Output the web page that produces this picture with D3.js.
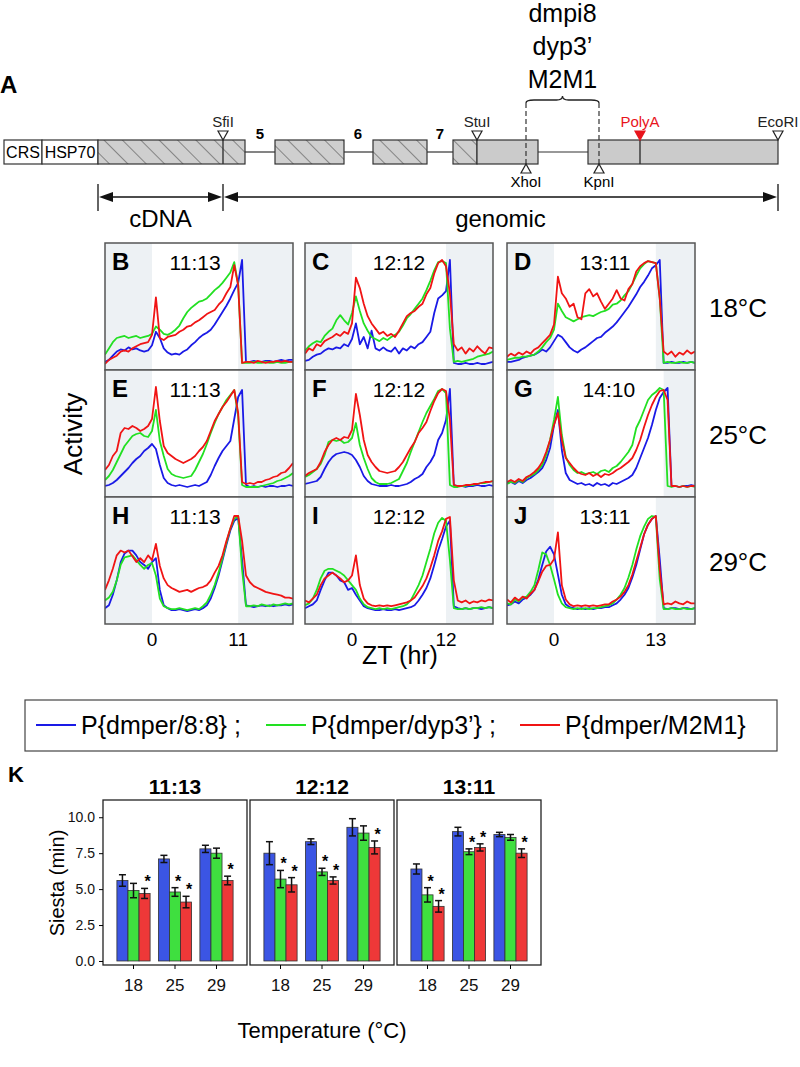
<!DOCTYPE html>
<html><head><meta charset="utf-8">
<script src="https://cdn.jsdelivr.net/npm/d3@7"></script>
<style>body{margin:0;background:#fff}svg{display:block;font-family:"Liberation Sans",Arial,Helvetica,sans-serif}</style>
</head><body><svg id="c" width="800" height="1067"></svg>
<script>
// ---------------- DATA ----------------
const genotypes = ["P{dmper/8:8} ;", "P{dmper/dyp3’} ;", "P{dmper/M2M1}"];
const temps = ["18°C", "25°C", "29°C"];
const panelLetters = [["B","C","D"],["E","F","G"],["H","I","J"]];
const photoperiods = [["11:13","12:12","13:11"],["11:13","12:12","14:10"],["11:13","12:12","13:11"]];
const lightsOff = [[11,12,13],[11,12,14],[11,12,13]];
const ztTickLabels = ["0","11","0","12","0","13"];
const ztStart = -6, ztEnd = 18, ztStep = 0.5;

// activity profiles (normalised, 30-min bins from ZT -6 to ZT 18)
const actB_8   = [2,4,8,12,14,13,16,14,15,13,12,13,18,31,25,15,11,9,10,9,12,14,18,21,25,28,30,33,38,44,50,56,63,71,78,100,2,2,3,2,2,3,3,2,3,4,3,4,4];
const actB_dyp = [9,15,21,25,26,27,25,26,27,25,26,27,29,36,33,29,28,30,33,37,44,50,54,57,60,61,63,67,71,74,78,83,88,98,76,1,1,1,2,1,1,2,1,1,2,1,1,2,2];
const actB_M2  = [0,4,6,8,12,13,12,15,17,19,20,21,28,64,25,23,26,27,28,31,33,36,37,40,42,45,48,50,52,57,61,68,74,95,76,1,2,2,1,3,2,1,2,2,3,2,3,2,2];
const actC_8   = [3,4,7,9,10,13,15,14,16,15,19,17,24,39,19,26,15,32,15,13,16,13,12,16,10,15,13,17,15,19,21,26,31,49,63,66,70,100,1,0,0,1,0,0,1,0,0,1,2];
const actC_dyp = [13,17,20,22,21,27,31,34,42,47,42,38,49,65,51,39,32,26,24,22,25,23,26,28,31,37,44,48,53,58,63,71,80,90,98,99,97,34,2,3,2,3,4,5,7,8,9,10,12];
const actC_M2  = [10,15,13,19,17,22,24,26,29,27,31,29,39,83,73,58,46,39,34,29,31,27,29,26,32,39,46,49,51,55,58,67,73,87,97,100,94,68,19,13,16,10,15,12,17,13,10,16,15];
const actD_8   = [2,2,3,4,6,7,8,9,11,14,12,16,22,28,26,21,16,13,11,14,16,19,22,25,26,30,33,36,40,45,50,55,61,67,74,79,85,92,95,100,1,1,2,1,1,2,1,2,1];
const actD_dyp = [4,5,6,6,7,7,8,9,12,16,21,25,33,58,51,45,43,41,43,45,46,47,46,48,50,51,53,57,58,61,66,70,77,85,92,96,99,98,97,63,1,2,1,1,2,1,1,2,1];
const actD_M2  = [7,10,8,11,9,12,10,14,16,20,24,28,38,84,68,63,55,58,45,43,68,72,65,68,60,53,58,63,71,63,61,72,77,89,94,97,99,98,97,63,12,9,12,7,11,9,13,10,12];
const actE_8   = [1,2,4,7,11,15,19,24,28,31,36,39,43,38,22,9,4,2,1,2,1,0,1,2,1,3,5,12,21,29,36,41,46,68,90,97,2,0,1,0,1,0,1,1,0,1,1,2,1];
const actE_dyp = [7,11,17,25,33,41,46,51,53,54,51,50,56,77,46,31,18,13,11,10,9,10,11,17,25,33,43,54,64,73,80,87,92,97,71,2,0,0,0,0,1,2,3,4,6,7,9,11,14];
const actE_M2  = [17,22,31,36,54,59,58,61,59,56,58,61,68,100,66,41,34,31,28,26,24,26,28,31,36,40,46,56,66,73,80,85,91,97,74,5,3,4,3,5,5,7,8,10,11,14,15,19,24];
const actF_8   = [3,4,5,6,10,18,25,30,33,34,35,34,32,27,20,11,6,3,2,1,1,1,2,1,1,2,3,5,8,10,13,20,25,32,47,54,67,98,2,1,1,0,1,1,2,1,1,2,1];
const actF_dyp = [10,12,15,18,23,32,45,47,46,47,44,45,49,64,42,29,18,9,5,3,3,3,4,6,8,16,24,35,45,55,65,74,81,88,96,98,94,2,0,0,1,1,2,2,3,4,4,5,6];
const actF_M2  = [11,14,16,18,25,35,42,47,49,47,50,49,57,93,72,47,32,25,20,16,15,14,15,16,20,25,32,39,45,54,59,65,76,86,94,98,96,67,2,1,1,2,2,3,3,4,5,5,6];
const actG_8   = [4,5,3,6,4,7,9,12,15,19,27,39,62,77,37,14,7,5,3,4,2,3,1,4,2,3,1,4,3,5,7,9,12,19,29,39,49,62,77,89,95,99,1,1,0,1,1,2,1];
const actG_dyp = [3,5,4,7,5,9,11,13,17,22,32,47,67,90,52,30,22,17,14,15,13,14,15,13,16,17,15,19,21,25,30,35,42,59,67,77,87,92,95,99,97,1,0,1,0,1,0,1,0];
const actG_M2  = [5,7,5,8,6,10,12,15,19,25,35,47,62,74,47,29,24,19,15,13,12,14,11,13,10,13,12,14,17,19,22,25,29,37,47,60,72,82,90,96,97,87,1,1,0,1,0,1,1];
const actH_8   = [4,7,18,33,52,61,64,64,59,52,49,45,52,56,23,7,4,2,2,3,2,1,2,3,2,4,7,14,25,38,54,70,85,95,98,54,7,6,5,6,7,6,7,6,7,7,8,7,8];
const actH_dyp = [12,15,21,33,49,57,58,59,54,49,45,49,51,38,14,6,4,3,3,4,3,2,3,4,3,6,10,18,28,41,56,72,87,97,100,44,6,6,7,6,8,7,6,8,7,8,9,8,9];
const actH_M2  = [23,33,45,59,64,62,64,58,52,56,52,59,54,71,48,35,28,25,23,21,22,23,21,23,25,26,28,33,41,48,59,74,87,100,100,74,38,31,27,25,23,21,20,19,18,17,15,15,14];
const actI_8   = [4,6,8,12,23,33,41,41,38,33,31,23,25,18,12,6,4,3,2,2,3,2,2,3,2,3,4,5,7,12,18,25,35,49,64,76,89,95,6,4,3,4,3,4,4,3,4,5,4];
const actI_dyp = [7,9,14,23,35,43,45,45,43,41,38,33,28,23,14,8,5,4,3,4,3,4,3,4,5,6,8,12,20,28,38,52,66,82,93,98,95,54,4,3,3,4,3,4,4,5,4,5,4];
const actI_M2  = [12,10,14,18,28,35,38,41,38,35,31,33,38,59,28,14,9,7,6,7,6,7,6,7,8,9,10,12,15,21,27,35,46,59,74,84,97,99,33,12,10,12,9,11,10,12,11,13,12];
const actJ_8   = [7,8,11,9,13,15,18,23,34,49,63,68,60,39,18,8,5,4,3,4,3,4,3,4,4,5,5,7,9,13,18,25,36,49,65,81,91,97,100,55,4,3,4,4,3,4,4,3,4];
const actJ_dyp = [9,8,13,11,15,16,21,28,44,62,60,49,34,18,9,5,4,3,4,3,4,3,4,4,5,6,7,9,13,18,25,36,49,65,79,89,97,100,99,34,3,3,4,3,3,4,3,3,4];
const actJ_M2  = [13,10,15,12,16,14,19,23,32,42,48,49,55,83,28,13,8,6,7,6,7,6,7,6,7,8,8,11,13,16,21,28,39,53,67,81,91,97,100,44,8,9,8,11,9,8,11,9,9];

// Panel K: siesta (min)
const barPhotoperiods = ["11:13","12:12","13:11"];
const barTemps = ["18","25","29"];
const siesta_8 = [[5.6,7.1,7.8],[7.5,8.3,9.3],[6.4,9.0,8.8]];
const siesta_dyp = [[4.9,4.8,7.5],[5.7,6.2,8.9],[4.6,7.6,8.6]];
const siesta_M2 = [[4.7,4.1,5.6],[5.3,5.6,7.9],[3.8,7.9,7.5]];
const sem_8 = [[0.4,0.25,0.25],[0.8,0.2,0.6],[0.35,0.3,0.15]];
const sem_dyp = [[0.5,0.3,0.35],[0.6,0.25,0.5],[0.5,0.2,0.2]];
const sem_M2 = [[0.35,0.4,0.3],[0.5,0.25,0.45],[0.4,0.25,0.3]];
const sig_8 = [[0,0,0],[0,0,0],[0,0,0]];
const sig_dyp = [[0,1,0],[1,1,0],[1,1,0]];
const sig_M2 = [[1,1,1],[1,1,1],[1,1,1]];
const siestaTicks = [0,2.5,5,7.5,10];

// Panel A schematic (gene map units)
const geneBoxes = [
  {a:0,b:38,kind:"white",label:"CRS"},{a:38,b:94,kind:"white",label:"HSP70"},
  {a:94,b:241,kind:"hatch"},{a:271,b:340,kind:"hatch"},{a:369,b:423,kind:"hatch"},
  {a:449,b:473,kind:"hatch"},{a:473,b:534,kind:"gray"},{a:584,b:774,kind:"gray"}];
const geneIntrons = [[241,271],[340,369],[423,449],[534,584]];
const exonNums = [{p:256,t:"5"},{p:354,t:"6"},{p:436,t:"7"}];
const sitesTop = [{p:219,t:"SfiI",line:true},{p:473,t:"StuI",line:false},{p:636,t:"PolyA",line:true,red:true},{p:774,t:"EcoRI",line:false}];
const sitesBottom = [{p:522,t:"XhoI"},{p:595,t:"KpnI"}];
const constructNames = ["dmpi8","dyp3’","M2M1"];
const regions = [{a:94,b:219,t:"cDNA"},{a:219,b:774,t:"genomic"}];

// ---------------- DRAW ----------------
const svg = d3.select("#c");
const lineColors = ["#1a1ae6","#22e022","#f01414"];
const barColors = ["#3b55e4","#3fdf3f","#ee3838"];
const shade = "#edf1f4";

// ===== Panel A =====
const gx = d3.scaleLinear().domain([0,774]).range([4,778]);
const barTop = 140, barH = 24, barMid = barTop + barH/2;
const defs = svg.append("defs");
const pat = defs.append("pattern").attr("id","hatch").attr("patternUnits","userSpaceOnUse")
  .attr("width",13).attr("height",13).attr("patternTransform","rotate(-45)");
pat.append("rect").attr("width",13).attr("height",13).attr("fill","#cfcfcf");
pat.append("line").attr("x1",0).attr("y1",0).attr("x2",0).attr("y2",13).attr("stroke","#3a3a3a").attr("stroke-width",1);

svg.append("text").attr("x",0).attr("y",93).attr("font-size",24).attr("font-weight","bold").text("A");
const gA = svg.append("g");
gA.selectAll("line.intron").data(geneIntrons).join("line")
  .attr("x1",d=>gx(d[0])).attr("x2",d=>gx(d[1])).attr("y1",barMid).attr("y2",barMid)
  .attr("stroke","#333").attr("stroke-width",1.2);
gA.selectAll("rect.box").data(geneBoxes).join("rect")
  .attr("x",d=>gx(d.a)).attr("width",d=>gx(d.b)-gx(d.a)).attr("y",barTop).attr("height",barH)
  .attr("fill",d=>d.kind==="white"?"#fff":d.kind==="hatch"?"url(#hatch)":"#cbcbcb")
  .attr("stroke","#333").attr("stroke-width",1.2);
gA.selectAll("text.boxl").data(geneBoxes.filter(d=>d.label)).join("text")
  .attr("x",d=>(gx(d.a)+gx(d.b))/2).attr("y",barMid+6).attr("text-anchor","middle")
  .attr("font-size",16).text(d=>d.label);
gA.selectAll("text.ex").data(exonNums).join("text")
  .attr("x",d=>gx(d.p)).attr("y",barTop-1).attr("text-anchor","middle")
  .attr("font-size",15).attr("font-weight","bold").text(d=>d.t);
sitesTop.forEach(s=>{
  const x = gx(s.p), c = s.red ? "#e8141c" : "#222";
  if (s.line) gA.append("line").attr("x1",x).attr("x2",x).attr("y1",barTop).attr("y2",barTop+barH).attr("stroke","#333").attr("stroke-width",1.4);
  gA.append("path").attr("d",`M${x-5},${barTop-9}L${x+5},${barTop-9}L${x},${barTop}Z`)
    .attr("fill",s.red?c:"#fff").attr("stroke",c).attr("stroke-width",1.2);
  gA.append("text").attr("x",x).attr("y",barTop-13).attr("text-anchor","middle")
    .attr("font-size",15).attr("fill",c).text(s.t);
});
sitesBottom.forEach(s=>{
  const x = gx(s.p);
  gA.append("line").attr("x1",x).attr("x2",x).attr("y1",103).attr("y2",barTop+barH)
    .attr("stroke","#333").attr("stroke-width",1.2).attr("stroke-dasharray","5,3");
  gA.append("path").attr("d",`M${x-5},${barTop+barH+9}L${x+5},${barTop+barH+9}L${x},${barTop+barH}Z`)
    .attr("fill","#fff").attr("stroke","#222").attr("stroke-width",1.2);
  gA.append("text").attr("x",x).attr("y",barTop+barH+23).attr("text-anchor","middle")
    .attr("font-size",15).text(s.t);
});
{
  const x0 = gx(sitesBottom[0].p), x1 = gx(sitesBottom[1].p), xm=(x0+x1)/2, yb=103, yt=97;
  gA.append("path").attr("d",`M${x0},${yb}Q${x0},${yt+3} ${x0+8},${yt+3}L${xm-6},${yt+3}Q${xm},${yt+3} ${xm},${yt-1}Q${xm},${yt+3} ${xm+6},${yt+3}L${x1-8},${yt+3}Q${x1},${yt+3} ${x1},${yb}`)
    .attr("fill","none").attr("stroke","#222").attr("stroke-width",1.3);
  gA.selectAll("text.cn").data(constructNames).join("text")
    .attr("x",xm).attr("y",(d,i)=>22+i*33).attr("text-anchor","middle").attr("font-size",25).text(d=>d);
}
{
  const ya = 197;
  const ticks = [regions[0].a, regions[0].b, regions[1].b];
  gA.selectAll("line.rt").data(ticks).join("line")
    .attr("x1",d=>gx(d)).attr("x2",d=>gx(d)).attr("y1",184).attr("y2",211).attr("stroke","#111").attr("stroke-width",1.3);
  regions.forEach(r=>{
    const a = gx(r.a)+1, b = gx(r.b)-1;
    gA.append("line").attr("x1",a+10).attr("x2",b-10).attr("y1",ya).attr("y2",ya).attr("stroke","#111").attr("stroke-width",1.3);
    gA.append("path").attr("d",`M${a},${ya}L${a+14},${ya-5}L${a+14},${ya+5}Z`).attr("fill","#111");
    gA.append("path").attr("d",`M${b},${ya}L${b-14},${ya-5}L${b-14},${ya+5}Z`).attr("fill","#111");
    gA.append("text").attr("x",(gx(r.a)+gx(r.b))/2).attr("y",227).attr("text-anchor","middle").attr("font-size",24).text(r.t);
  });
}

// ===== Panels B-J =====
const panelSeries = [
  [[actB_8,actB_dyp,actB_M2],[actC_8,actC_dyp,actC_M2],[actD_8,actD_dyp,actD_M2]],
  [[actE_8,actE_dyp,actE_M2],[actF_8,actF_dyp,actF_M2],[actG_8,actG_dyp,actG_M2]],
  [[actH_8,actH_dyp,actH_M2],[actI_8,actI_dyp,actI_M2],[actJ_8,actJ_dyp,actJ_M2]]];
const colX = [105,305,507], pW = 188, rowY = [243,370,497], pH = 127;
const baseOff = [121,117,115], peakOff = [17,17,19];
rowY.forEach((ry,r)=>{
  colX.forEach((cx,c)=>{
    const x = d3.scaleLinear().domain([ztStart,ztEnd]).range([cx,cx+pW]);
    const y = d3.scaleLinear().domain([0,100]).range([ry+baseOff[r], ry+peakOff[r]]);
    const g = svg.append("g");
    const cid = `clip${r}${c}`;
    defs.append("clipPath").attr("id",cid).append("rect").attr("x",cx).attr("y",ry).attr("width",pW).attr("height",pH);
    g.append("rect").attr("x",cx).attr("y",ry).attr("width",pW).attr("height",pH).attr("fill","#fff");
    g.append("rect").attr("x",x(ztStart)).attr("y",ry).attr("width",x(0)-x(ztStart)).attr("height",pH).attr("fill",shade);
    g.append("rect").attr("x",x(lightsOff[r][c])).attr("y",ry).attr("width",x(ztEnd)-x(lightsOff[r][c])).attr("height",pH).attr("fill",shade);
    g.append("text").attr("x",cx+7).attr("y",ry+27).attr("font-size",24).attr("font-weight","bold").text(panelLetters[r][c]);
    g.append("text").attr("x",(x(0)+x(lightsOff[r][c]))/2).attr("y",ry+27).attr("text-anchor","middle").attr("font-size",21).text(photoperiods[r][c]);
    const line = d3.line().x((d,i)=>x(ztStart+i*ztStep)).y(d=>y(d));
    const lg = g.append("g").attr("clip-path",`url(#${cid})`);
    panelSeries[r][c].forEach((s,k)=>{
      lg.append("path").attr("d",line(s)).attr("fill","none").attr("stroke",lineColors[k]).attr("stroke-width",1.8).attr("stroke-linejoin","round");
    });
    g.append("rect").attr("x",cx).attr("y",ry).attr("width",pW).attr("height",pH).attr("fill","none").attr("stroke","#555").attr("stroke-width",1.5);
    if (r===2) {
      const tv = [0, lightsOff[r][c]];
      g.selectAll("text.tk").data(tv).join("text").attr("x",d=>x(d)).attr("y",ry+pH+22)
        .attr("text-anchor","middle").attr("font-size",19).text((d,i)=>ztTickLabels[c*2+i]);
    }
  });
  svg.append("text").attr("x",738).attr("y",ry+74).attr("text-anchor","middle").attr("font-size",26).text(temps[r]);
});
svg.append("text").attr("transform","translate(82,434) rotate(-90)").attr("text-anchor","middle").attr("font-size",26).text("Activity");
svg.append("text").attr("x",400).attr("y",664).attr("text-anchor","middle").attr("font-size",25).text("ZT (hr)");

// legend
{
  const lg = svg.append("g");
  lg.append("rect").attr("x",25).attr("y",700).attr("width",752).attr("height",51).attr("fill","#fff").attr("stroke","#444").attr("stroke-width",1.2);
  const lx = [36, 266, 520];
  genotypes.forEach((t,i)=>{
    lg.append("line").attr("x1",lx[i]).attr("x2",lx[i]+40).attr("y1",725).attr("y2",725).attr("stroke",lineColors[i]).attr("stroke-width",2);
    lg.append("text").attr("x",lx[i]+45).attr("y",734).attr("font-size",25).text(t);
  });
}

// ===== Panel K =====
svg.append("text").attr("x",8).attr("y",782).attr("font-size",22).attr("font-weight","bold").text("K");
const kTop = 800, kBot = 965, kW = 144, kGap = 3, kX0 = 103;
const ky = d3.scaleLinear().domain([-0.28,11.2]).range([kBot,kTop]);
const allMeans = [siesta_8, siesta_dyp, siesta_M2], allSem = [sem_8, sem_dyp, sem_M2], allSig = [sig_8, sig_dyp, sig_M2];
barPhotoperiods.forEach((pp,p)=>{
  const px = kX0 + p*(kW+kGap);
  const g = svg.append("g");
  const x0 = d3.scaleBand().domain(barTemps).range([px,px+kW]).paddingInner(0.2).paddingOuter(0.335);
  const x1 = d3.scaleBand().domain([0,1,2]).range([0,x0.bandwidth()]);
  barTemps.forEach((t,ti)=>{
    [0,1,2].forEach(k=>{
      const m = allMeans[k][p][ti], e = allSem[k][p][ti];
      const bx = x0(t)+x1(k), cxm = bx + x1.bandwidth()/2;
      g.append("rect").attr("x",bx).attr("width",x1.bandwidth()).attr("y",ky(m)).attr("height",ky(0)-ky(m))
        .attr("fill",barColors[k]).attr("stroke","#333").attr("stroke-width",0.8);
      g.append("line").attr("x1",cxm).attr("x2",cxm).attr("y1",ky(m-e)).attr("y2",ky(m+e)).attr("stroke","#111").attr("stroke-width",1.5);
      [m-e,m+e].forEach(v=>g.append("line").attr("x1",cxm-3.5).attr("x2",cxm+3.5).attr("y1",ky(v)).attr("y2",ky(v)).attr("stroke","#111").attr("stroke-width",1.5));
      if (allSig[k][p][ti]) g.append("text").attr("x",cxm+3).attr("y",ky(m+e)-1).attr("text-anchor","middle").attr("font-size",16).attr("font-weight","bold").text("*");
    });
  });
  g.append("rect").attr("x",px).attr("y",kTop).attr("width",kW).attr("height",kBot-kTop).attr("fill","none").attr("stroke","#222").attr("stroke-width",1.3);
  g.append("text").attr("x",px+kW/2).attr("y",kTop-6).attr("text-anchor","middle").attr("font-size",21).attr("font-weight","bold").text(pp);
  const xa = g.append("g").attr("transform",`translate(0,${kBot})`).call(d3.axisBottom(x0).tickSize(4).tickPadding(10));
  xa.select(".domain").remove();
  xa.selectAll("text").attr("font-size",17).attr("fill","#111").style("font-family","Liberation Sans, Arial");
  if (p===0) {
    const ya = g.append("g").attr("transform",`translate(${px},0)`).call(d3.axisLeft(ky).tickValues(siestaTicks).tickFormat(d3.format(".1f")).tickSize(4).tickPadding(4));
    ya.select(".domain").remove();
    ya.selectAll("text").attr("font-size",14).attr("fill","#111").style("font-family","Liberation Sans, Arial");
  }
});
svg.append("text").attr("transform","translate(64,883) rotate(-90)").attr("text-anchor","middle").attr("font-size",20).text("Siesta (min)");
svg.append("text").attr("x",322).attr("y",1038).attr("text-anchor","middle").attr("font-size",22).text("Temperature (°C)");
</script></body></html>
